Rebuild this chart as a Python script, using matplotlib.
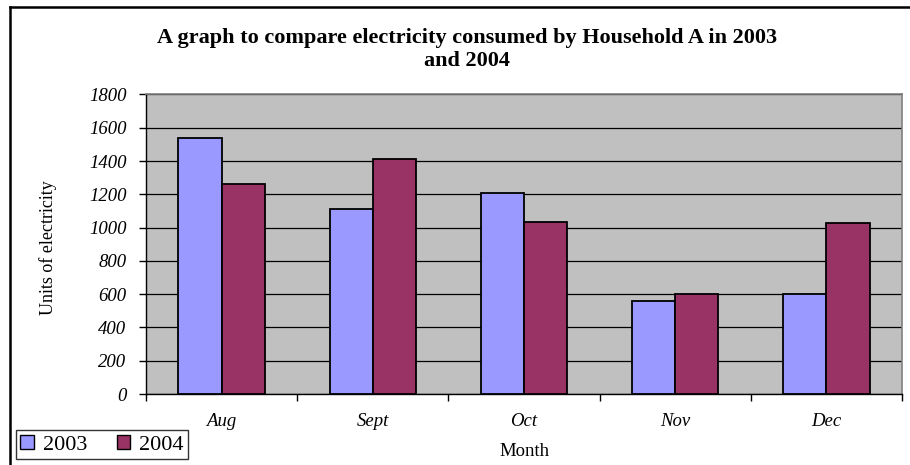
import matplotlib
matplotlib.use("Agg")
import matplotlib.pyplot as plt
from matplotlib.lines import Line2D
from matplotlib.patches import Patch
import numpy as np

months = ["Aug", "Sept", "Oct", "Nov", "Dec"]
series_names = ["2003", "2004"]
units_2003 = [1540, 1110, 1210, 560, 600]
units_2004 = [1265, 1410, 1035, 600, 1030]
y_ticks = [0, 200, 400, 600, 800, 1000, 1200, 1400, 1600, 1800]

plt.rcParams['font.family'] = ['Liberation Serif', 'DejaVu Serif']

W, H = 910, 465
fig = plt.figure(figsize=(W / 100, H / 100), dpi=100)
fig.patch.set_facecolor('white')

ax = fig.add_axes([146 / W, (H - 394) / H, 756 / W, 299.5 / H])
ax.set_facecolor('#C0C0C0')

x = np.arange(len(months))
w = 1 / 3.5
ax.bar(x - w / 2, units_2003, width=w, color='#9999FF', edgecolor='black',
       linewidth=1.3, zorder=3, label=series_names[0])
ax.bar(x + w / 2, units_2004, width=w, color='#993366', edgecolor='black',
       linewidth=1.3, zorder=3, label=series_names[1])

ax.set_xlim(-0.5, len(months) - 0.5)
ax.set_ylim(0, 1800)
ax.set_yticks(y_ticks)
ax.set_yticklabels([str(t) for t in y_ticks], fontsize=13.5, style='italic')
ax.yaxis.grid(True, color='black', linewidth=0.9, zorder=1)
ax.set_axisbelow(True)

ax.set_xticks(np.arange(len(months) + 1) - 0.5)
ax.set_xticklabels([])
ax.set_xticks(x, minor=True)
ax.set_xticklabels(months, minor=True, fontsize=13.5, style='italic')
ax.tick_params(axis='x', which='minor', length=0, pad=14)
ax.tick_params(axis='x', which='major', length=5, width=1, direction='out', color='black')
ax.tick_params(axis='y', length=5, width=1, direction='out', pad=9)

for s in ['top', 'right']:
    ax.spines[s].set_color('#808080')
    ax.spines[s].set_linewidth(1.2)
for s in ['left', 'bottom']:
    ax.spines[s].set_color('black')
    ax.spines[s].set_linewidth(1.0)

ax.set_ylabel("Units of electricity", fontsize=13)
ax.yaxis.set_label_coords(-0.118, 0.49)
ax.set_xlabel("Month", fontsize=13.5)
ax.xaxis.set_label_coords(0.5, -0.165)

fig.text(467 / W, 1 - 49.5 / H, "A graph to compare electricity consumed by Household A in 2003\nand 2004",
         ha='center', va='center', fontsize=16, fontweight='bold', linespacing=1.15)

# outer chart border (top and left visible)
fig.add_artist(Line2D([10 / W, 10 / W], [0, 1 - 7 / H], transform=fig.transFigure,
                      color='black', linewidth=1.8))
fig.add_artist(Line2D([10 / W, 1], [1 - 7 / H, 1 - 7 / H], transform=fig.transFigure,
                      color='black', linewidth=1.8))

handles = [Patch(facecolor='#9999FF', edgecolor='black', linewidth=1.0),
           Patch(facecolor='#993366', edgecolor='black', linewidth=1.0)]
leg = fig.legend(handles, series_names, loc='lower left',
                 bbox_to_anchor=(16 / W, 6 / H, 172 / W, 36.5 / H),
                 ncol=2, fontsize=16, frameon=True, fancybox=False,
                 handlelength=0.6, handleheight=0.6, handletextpad=0.4,
                 columnspacing=0.9, borderpad=0.2, borderaxespad=0, mode='expand')
leg.get_frame().set_edgecolor('black')
leg.get_frame().set_linewidth(1.0)

fig.savefig("out.png", dpi=100)
